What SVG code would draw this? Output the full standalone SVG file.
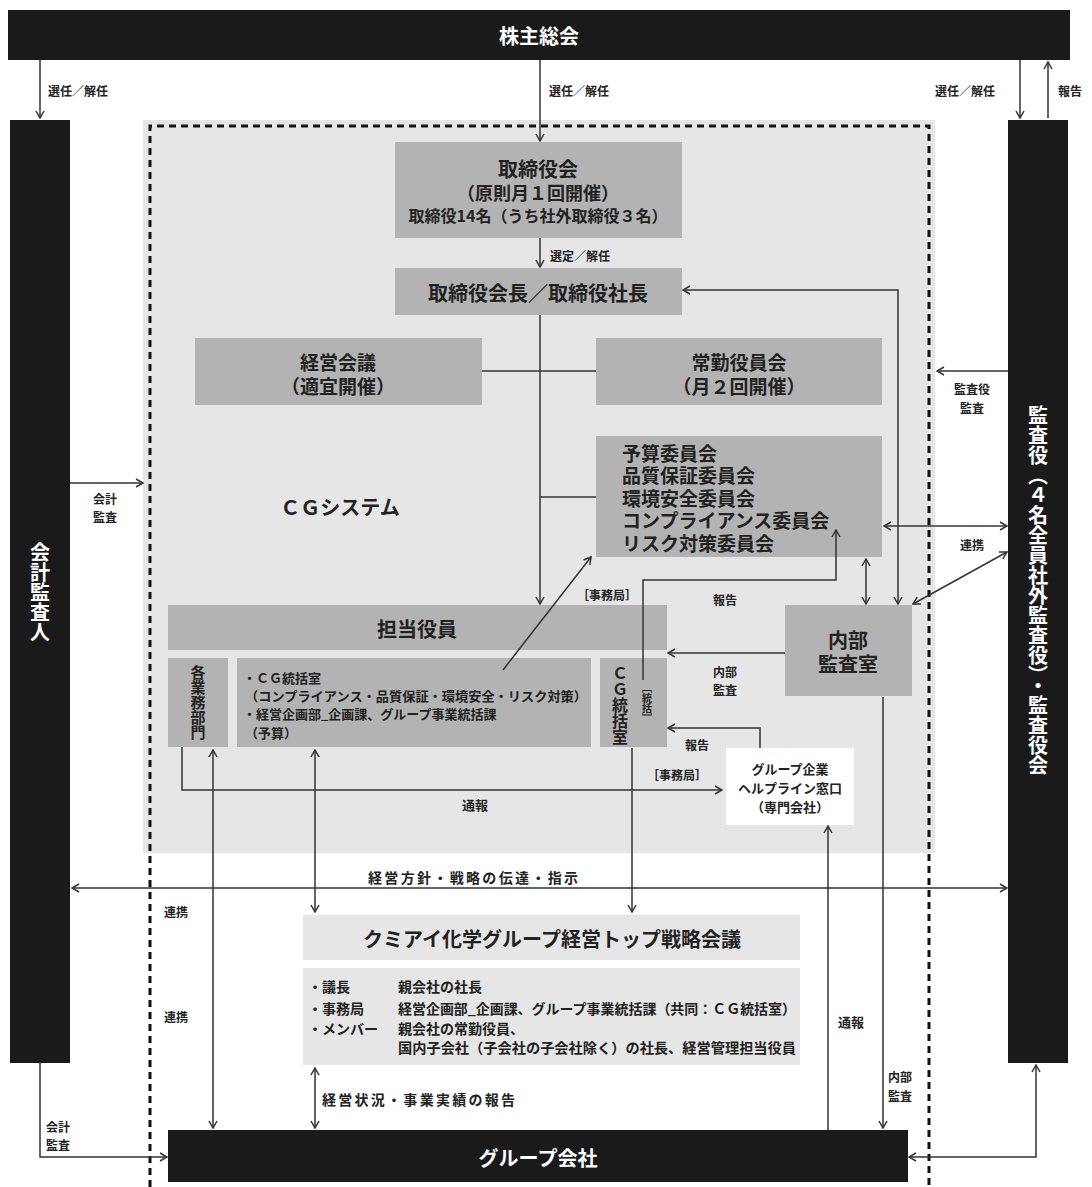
<svg xmlns="http://www.w3.org/2000/svg" width="1092" height="1187" viewBox="0 0 1092 1187">
<style>
text{font-family:"Noto Sans CJK JP","Noto Sans",sans-serif;font-weight:700;fill:#222;dominant-baseline:central}
.w{fill:#fff}
.c{text-anchor:middle}
.v{writing-mode:vertical-rl;text-anchor:middle}
.f20{font-size:20px}
.f19{font-size:19px}
.f18{font-size:18px}
.f16{font-size:16px}
.f15{font-size:15px}
.f14{font-size:14px}
.f13{font-size:13px}
.f12{font-size:12px}
.blk{fill:#1a1a1a}
.box{fill:#b3b3b3}
.lt{fill:#e6e6e6}
.ln{fill:none;stroke:#333;stroke-width:1.5}
.ar{marker-end:url(#a)}
.ar2{marker-start:url(#a);marker-end:url(#a)}
</style>
<defs>
<marker id="a" viewBox="0 0 10 10" refX="9" refY="5" markerWidth="10" markerHeight="10" markerUnits="userSpaceOnUse" orient="auto-start-reverse">
<path d="M2,1 L9,5 L2,9" fill="none" stroke="#333" stroke-width="1.5"/>
</marker>
</defs>
<rect width="1092" height="1187" fill="#fff"/>
<rect class="lt" x="143" y="120" width="792" height="733"/>
<path d="M150,1187 V126 H929 V1187" fill="none" stroke="#111" stroke-width="3" stroke-dasharray="7 5"/>

<g id="shareholders">
<rect class="blk" x="8" y="10" width="1062" height="50"/>
<text class="f20 c w" x="539" y="35">株主総会</text>
</g>
<g id="accounting-auditor">
<rect class="blk" x="10" y="120" width="60" height="943"/>
<text class="f20 v w" x="40" y="592">会計監査人</text>
</g>
<g id="auditors">
<rect class="blk" x="1008" y="120" width="60" height="943"/>
<text class="f20 v w" x="1038" y="590">監査役（４名全員社外監査役）・監査役会</text>
</g>
<g id="board">
<rect class="box" x="395" y="142" width="287" height="96"/>
<text class="c" x="538" y="168"><tspan class="f20" x="538" y="168">取締役会</tspan><tspan class="f18" x="538" y="192">（原則月１回開催）</tspan><tspan class="f16" x="538" y="215">取締役14名（うち社外取締役３名）</tspan></text>
</g>
<g id="president">
<rect class="box" x="395" y="268" width="287" height="47"/>
<text class="f20 c" x="538" y="292">取締役会長／取締役社長</text>
</g>
<g id="mgmt-meeting">
<rect class="box" x="195" y="338" width="287" height="67"/>
<text class="f19 c" x="338" y="361"><tspan x="338" y="361">経営会議</tspan><tspan x="338" y="385">（適宜開催）</tspan></text>
</g>
<g id="executive-committee">
<rect class="box" x="596" y="338" width="286" height="67"/>
<text class="f19 c" x="739" y="361"><tspan x="739" y="361">常勤役員会</tspan><tspan x="739" y="385">（月２回開催）</tspan></text>
</g>
<g id="committees">
<rect class="box" x="596" y="436" width="286" height="121"/>
<text class="f19" x="622" y="452"><tspan x="622" y="452">予算委員会</tspan><tspan x="622" y="474">品質保証委員会</tspan><tspan x="622" y="497">環境安全委員会</tspan><tspan x="622" y="519">コンプライアンス委員会</tspan><tspan x="622" y="542">リスク対策委員会</tspan></text>
</g>
<g id="officers">
<rect class="box" x="168" y="605" width="499" height="45"/>
<text class="f20 c" x="417" y="628">担当役員</text>
</g>
<g id="business-units">
<rect class="box" x="168" y="658" width="60" height="89"/>
<text class="f15 v" x="198" y="702">各業務部門</text>
</g>
<g id="cg-departments">
<rect class="box" x="237" y="658" width="354" height="89"/>
<text class="f13" x="243" y="677"><tspan x="243" y="677">・ＣＧ統括室</tspan><tspan x="245" y="695" textLength="342" lengthAdjust="spacingAndGlyphs">（コンプライアンス・品質保証・環境安全・リスク対策）</tspan><tspan x="243" y="713">・経営企画部_企画課、グループ事業統括課</tspan><tspan x="245" y="732">（予算）</tspan></text>
</g>
<g id="cg-office">
<rect class="box" x="600" y="658" width="67" height="89"/>
<text class="f16 v" x="620" y="705">ＣＧ統括室</text>
<text class="f12 v" x="647" y="703" style="font-size:10px">［統括］</text>
</g>
<g id="internal-audit">
<rect class="box" x="785" y="605" width="127" height="91"/>
<text class="f20 c" x="848" y="639"><tspan x="848" y="639">内部</tspan><tspan x="848" y="663">監査室</tspan></text>
</g>
<g id="helpline">
<rect fill="#fff" x="726" y="748" width="128" height="77"/>
<text class="f13 c" x="790" y="768"><tspan x="790" y="768">グループ企業</tspan><tspan x="790" y="787">ヘルプライン窓口</tspan><tspan x="790" y="806">（専門会社）</tspan></text>
</g>
<g id="group-strategy">
<rect class="lt" x="303" y="915" width="497" height="45"/>
<text class="f20 c" x="552" y="938">クミアイ化学グループ経営トップ戦略会議</text>
</g>
<g id="group-strategy-members">
<rect class="lt" x="303" y="968" width="497" height="97"/>
<text class="f14" x="308" y="986"><tspan x="308" y="986">・議長</tspan><tspan x="308" y="1008">・事務局</tspan><tspan x="308" y="1028">・メンバー</tspan></text>
<text class="f14" x="398" y="986"><tspan x="398" y="986">親会社の社長</tspan><tspan x="398" y="1008" textLength="398" lengthAdjust="spacingAndGlyphs">経営企画部_企画課、グループ事業統括課（共同：ＣＧ統括室）</tspan><tspan x="398" y="1028">親会社の常勤役員、</tspan><tspan x="398" y="1047" textLength="398" lengthAdjust="spacingAndGlyphs">国内子会社（子会社の子会社除く）の社長、経営管理担当役員</tspan></text>
</g>
<g id="group-companies">
<rect class="blk" x="168" y="1130" width="740" height="52"/>
<text class="f20 c w" x="538" y="1157">グループ会社</text>
</g>

<g id="connectors">
<path class="ln ar" d="M40,60 V118"/>
<path class="ln ar" d="M540,60 V141"/>
<path class="ln ar" d="M1020,60 V118"/>
<path class="ln ar" d="M1048,118 V62"/>
<path class="ln ar" d="M540,238 V267"/>
<path class="ln ar" d="M540,315 V604"/>
<path class="ln" d="M482,371 H596"/>
<path class="ln" d="M540,497 H596"/>
<path class="ln ar2" d="M683,290 H898 V604"/>
<path class="ln ar2" d="M866,559 V604"/>
<path class="ln ar2" d="M913,604 L1007,552"/>
<path class="ln ar2" d="M884,526 H1007"/>
<path class="ln ar" d="M1008,371 H937"/>
<path class="ln ar" d="M70,483 H143"/>
<path class="ln ar" d="M503,670 L591,557"/>
<path class="ln ar" d="M643,680 V580 H836 V530"/>
<path class="ln ar" d="M785,653 H668"/>
<path class="ln ar" d="M760,748 V728 H668"/>
<path class="ln ar" d="M182,747 V790 H722"/>
<path class="ln ar" d="M632,748 V912"/>
<path class="ln ar2" d="M315,750 V912"/>
<path class="ln ar2" d="M213,750 V1128"/>
<path class="ln ar" d="M828,1130 V826"/>
<path class="ln ar" d="M883,697 V1128"/>
<path class="ln ar2" d="M72,888 H1007"/>
<path class="ln ar2" d="M315,1068 V1128"/>
<path class="ln ar" d="M40,1063 V1157 H167"/>
<path class="ln ar2" d="M909,1157 H1036 V1065"/>
</g>

<g id="labels">
<text class="f12" x="48" y="90">選任／解任</text>
<text class="f12" x="549" y="90">選任／解任</text>
<text class="f12" x="935" y="90">選任／解任</text>
<text class="f12" x="1058" y="90">報告</text>
<text class="f12" x="550" y="255">選定／解任</text>
<text class="f12 c" x="105" y="498"><tspan x="105" y="498">会計</tspan><tspan x="105" y="516">監査</tspan></text>
<text class="f12 c" x="972" y="388"><tspan x="972" y="388">監査役</tspan><tspan x="972" y="407">監査</tspan></text>
<text class="f12 c" x="972" y="544">連携</text>
<text class="f12 c" x="725" y="599">報告</text>
<text class="f12 c" x="607" y="594">［事務局］</text>
<text class="f12 c" x="725" y="671"><tspan x="725" y="671">内部</tspan><tspan x="725" y="689">監査</tspan></text>
<text class="f12 c" x="697" y="744">報告</text>
<text class="f12 c" x="677" y="774">［事務局］</text>
<text class="f13 c" x="475" y="804">通報</text>
<text class="f14" x="368" y="877" textLength="210" lengthAdjust="spacing">経営方針・戦略の伝達・指示</text>
<text class="f12 c" x="176" y="911">連携</text>
<text class="f12 c" x="176" y="1016">連携</text>
<text class="f13 c" x="851" y="1021">通報</text>
<text class="f12 c" x="900" y="1076"><tspan x="900" y="1076">内部</tspan><tspan x="900" y="1095">監査</tspan></text>
<text class="f14" x="322" y="1099" textLength="193" lengthAdjust="spacing">経営状況・事業実績の報告</text>
<text class="f12 c" x="58" y="1126"><tspan x="58" y="1126">会計</tspan><tspan x="58" y="1144">監査</tspan></text>
<text class="f20 c" x="340" y="506">ＣＧシステム</text>
</g>
</svg>
